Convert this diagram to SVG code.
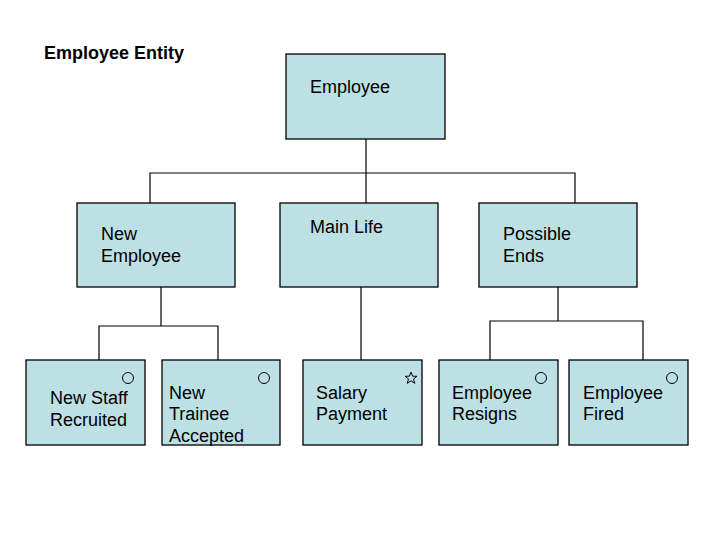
<svg xmlns="http://www.w3.org/2000/svg" width="720" height="540" viewBox="0 0 720 540">
<style>
.box{fill:#BDE0E4;stroke:#000;stroke-width:1.3}
.t{font-family:"Liberation Sans",Arial,sans-serif;font-size:18px;fill:#000}
.title{font-family:"Liberation Sans",Arial,sans-serif;font-size:18px;font-weight:bold;fill:#000}
.c{fill:none;stroke:#000;stroke-width:1.2}
.mark{fill:none;stroke:#000;stroke-width:1}
</style>
<rect width="720" height="540" fill="#fff"/>
<text class="title" x="44" y="59">Employee Entity</text>
<g id="connectors">
<polyline class="c" points="366,139 366,173"/>
<polyline class="c" points="150,203 150,173 575,173 575,203"/>
<polyline class="c" points="366,173 366,203"/>
<polyline class="c" points="161,287 161,326"/>
<polyline class="c" points="99,360 99,326 218,326 218,360"/>
<polyline class="c" points="361,287 361,360"/>
<polyline class="c" points="558,287 558,321"/>
<polyline class="c" points="490,360 490,321 643,321 643,360"/>
</g>
<g id="employee">
<rect class="box" x="286" y="54" width="159" height="85"/>
<text class="t" x="310" y="93">Employee</text>
</g>
<g id="new-employee">
<rect class="box" x="77" y="203" width="158" height="84"/>
<text class="t" x="101" y="240">New</text>
<text class="t" x="101" y="262">Employee</text>
</g>
<g id="main-life">
<rect class="box" x="280" y="203" width="158" height="84"/>
<text class="t" x="310" y="233">Main Life</text>
</g>
<g id="possible-ends">
<rect class="box" x="479" y="203" width="158" height="84"/>
<text class="t" x="503" y="240">Possible</text>
<text class="t" x="503" y="262">Ends</text>
</g>
<g id="new-staff-recruited">
<rect class="box" x="26" y="360" width="119" height="85"/>
<circle class="mark" cx="128" cy="378" r="5.5"/>
<text class="t" x="50" y="404">New Staff</text>
<text class="t" x="50" y="426">Recruited</text>
</g>
<g id="new-trainee-accepted">
<rect class="box" x="162" y="360" width="118" height="85"/>
<circle class="mark" cx="264" cy="378" r="5.5"/>
<text class="t" x="169" y="399">New</text>
<text class="t" x="169" y="420">Trainee</text>
<text class="t" x="169" y="442">Accepted</text>
</g>
<g id="salary-payment">
<rect class="box" x="303" y="360" width="119" height="85"/>
<polygon class="mark" points="411,372 412.6,376.2 417,376.3 413.5,379 414.8,383.3 411,380.8 407.2,383.3 408.5,379 405,376.3 409.4,376.2"/>
<text class="t" x="316" y="399">Salary</text>
<text class="t" x="316" y="420">Payment</text>
</g>
<g id="employee-resigns">
<rect class="box" x="439" y="360" width="119" height="85"/>
<circle class="mark" cx="541" cy="378" r="5.5"/>
<text class="t" x="452" y="399">Employee</text>
<text class="t" x="452" y="420">Resigns</text>
</g>
<g id="employee-fired">
<rect class="box" x="569" y="360" width="119" height="85"/>
<circle class="mark" cx="672" cy="378" r="5.5"/>
<text class="t" x="583" y="399">Employee</text>
<text class="t" x="583" y="420">Fired</text>
</g>
</svg>
